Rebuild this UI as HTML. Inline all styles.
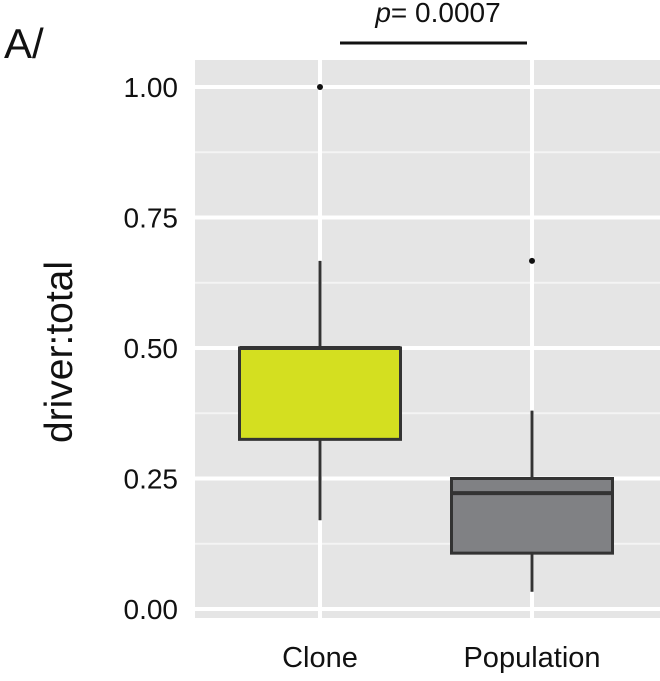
<!DOCTYPE html>
<html><head><meta charset="utf-8"><style>
html,body{margin:0;padding:0;background:#fff;}
svg text{font-family:"Liberation Sans",Arial,sans-serif;}
</style></head><body>
<svg id="chart" width="660" height="676" viewBox="0 0 660 676" xmlns="http://www.w3.org/2000/svg">
<text x="4" y="58" font-size="42" fill="#111">A/</text>
<rect x="195" y="60" width="465" height="558" fill="#e5e5e5"/>
<g id="grid"></g>
<g id="yticks"></g>
<g id="boxes"></g>
<g id="xticks"></g>
<text transform="translate(72,352) rotate(-90)" text-anchor="middle" font-size="39" fill="#111">driver:total</text>
<line x1="340" y1="43" x2="527" y2="43" stroke="#111" stroke-width="3"/>
<text x="438" y="22" text-anchor="middle" font-size="28" fill="#111"><tspan font-style="italic">p</tspan>= 0.0007</text>
</svg>
<script>
const categories = ["Clone", "Population"];
const q1 = [0.325, 0.107];
const median = [0.5, 0.222];
const q3 = [0.5, 0.25];
const whiskerLow = [0.17, 0.033];
const whiskerHigh = [0.667, 0.38];
const outliers = [[1.0], [0.667]];
const yTicks = [0, 0.25, 0.5, 0.75, 1.0];
const yTickLabels = ["0.00", "0.25", "0.50", "0.75", "1.00"];
const fills = ["#d4df20", "#808184"];

const NS = "http://www.w3.org/2000/svg";
const y = v => 609 - v * 522;
const x = i => 320 + i * 212;
const boxW = 161;
function mk(tag, attrs, parent) {
  const e = document.createElementNS(NS, tag);
  for (const k in attrs) e.setAttribute(k, attrs[k]);
  parent.appendChild(e);
  return e;
}
const grid = document.getElementById('grid');
const yt = document.getElementById('yticks');
const bx = document.getElementById('boxes');
const xt = document.getElementById('xticks');
for (let i = 0; i < yTicks.length - 1; i++) {
  const m = (yTicks[i] + yTicks[i + 1]) / 2;
  const l = mk('line', {x1: 195, x2: 660, y1: y(m), y2: y(m), stroke: '#f4f4f4', 'stroke-width': 2}, grid);
  
  
}
yTicks.forEach((v, i) => {
  const l = mk('line', {x1: 195, x2: 660, y1: y(v), y2: y(v), stroke: '#fff', 'stroke-width': 4}, grid);
  
  
  const t = mk('text', {x: 178, y: y(v) + 10, 'text-anchor': 'end', 'font-size': 28, fill: '#111'}, yt);
  t.textContent = yTickLabels[i];
  
  
});
categories.forEach((c, i) => {
  const l = mk('line', {x1: x(i), x2: x(i), y1: 60, y2: 618, stroke: '#fff', 'stroke-width': 4}, grid);
  
  
  const g = mk('g', {}, bx);
  
  
  mk('line', {x1: x(i), x2: x(i), y1: y(whiskerHigh[i]), y2: y(q3[i]), stroke: '#333', 'stroke-width': 3}, g);
  mk('line', {x1: x(i), x2: x(i), y1: y(q1[i]), y2: y(whiskerLow[i]), stroke: '#333', 'stroke-width': 3}, g);
  mk('rect', {x: x(i) - boxW / 2, y: y(q3[i]), width: boxW, height: y(q1[i]) - y(q3[i]), fill: fills[i], stroke: '#333', 'stroke-width': 3}, g);
  mk('line', {x1: x(i) - boxW / 2, x2: x(i) + boxW / 2, y1: y(median[i]), y2: y(median[i]), stroke: '#333', 'stroke-width': 4}, g);
  outliers[i].forEach(o => {
    const p = mk('circle', {cx: x(i), cy: y(o), r: 3, fill: '#111'}, g);
    
    
  });
  const t = mk('text', {x: x(i), y: 667, 'text-anchor': 'middle', 'font-size': 29, fill: '#111'}, xt);
  t.textContent = c;
  
  
});
</script>
</body></html>
